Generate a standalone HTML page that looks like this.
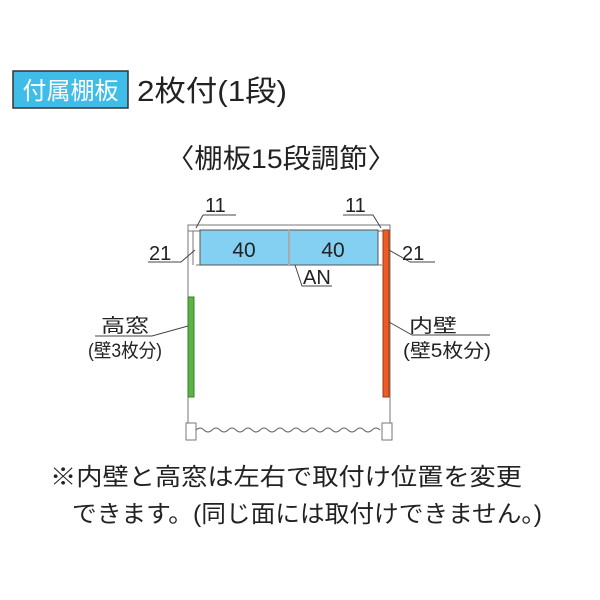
<!DOCTYPE html>
<html><head><meta charset="utf-8"><style>
html,body{margin:0;padding:0;background:#fff;}
svg{display:block;}
text{font-family:"Liberation Sans","Noto Sans CJK JP",sans-serif;fill:#222;}
</style></head><body>
<svg width="600" height="600" viewBox="0 0 600 600" xmlns="http://www.w3.org/2000/svg">
<rect x="13" y="71" width="115" height="37" fill="#3fbde8" stroke="#333" stroke-width="1.5"/>
<text x="70.5" y="99" font-size="24" text-anchor="middle" style="fill:#fff">付属棚板</text>
<text x="137" y="101" font-size="29" textLength="150" lengthAdjust="spacingAndGlyphs">2枚付(1段)</text>
<text x="166" y="168" font-size="27" textLength="230" lengthAdjust="spacingAndGlyphs">〈棚板15段調節〉</text>
<!-- frame -->
<g stroke="#777" stroke-width="1" fill="#fff">
<rect x="188" y="225" width="202" height="6"/>
<line x1="188" y1="225" x2="188" y2="428"/>
<line x1="193" y1="231" x2="193" y2="265"/>
<line x1="390" y1="225" x2="390" y2="428"/>
<line x1="196" y1="265" x2="382" y2="265"/>
<rect x="186" y="423" width="10" height="17"/>
<rect x="382" y="423" width="10" height="17"/>
</g>
<rect x="200" y="230" width="178" height="35" fill="#84d0f2" stroke="#555" stroke-width="1"/>
<line x1="289" y1="230" x2="289" y2="265" stroke="#555" stroke-width="2"/>
<line x1="289" y1="230" x2="289" y2="265" stroke="#fff" stroke-width="1"/>
<rect x="188" y="297" width="6" height="100" fill="#5bb543" stroke="#3c7a2c" stroke-width="1"/>
<rect x="383" y="230" width="6" height="167" fill="#ee5a24" stroke="#a03a14" stroke-width="1"/>
<path d="M196 430 q4 -4 8 0 t8 0 t8 0 t8 0 t8 0 t8 0 t8 0 t8 0 t8 0 t8 0 t8 0 t8 0 t8 0 t8 0 t8 0 t8 0 t8 0 t8 0 t8 0 t8 0 t8 0 t8 0 t8 0" fill="none" stroke="#666" stroke-width="1"/>
<text x="244" y="257" font-size="21" text-anchor="middle">40</text>
<text x="333" y="257" font-size="21" text-anchor="middle">40</text>
<!-- leaders -->
<g stroke="#444" stroke-width="1" fill="none">
<polyline points="203,215 236,215"/><line x1="203" y1="215" x2="196" y2="228"/>
<polyline points="343,215 373,215 381,228"/>
<polyline points="148,262 181,262 195,250"/>
<polyline points="410,262 435,262"/><line x1="410" y1="262" x2="389" y2="250"/>
<polyline points="295,265 302,286 332,286"/>
<polyline points="95,336 152,336 188,326"/>
<polyline points="389,322 412,335 490,335"/>
</g>
<text x="205" y="212" font-size="20">11</text>
<text x="345" y="212" font-size="20">11</text>
<text x="149" y="260" font-size="20">21</text>
<text x="402" y="260" font-size="20">21</text>
<text x="303" y="284" font-size="20">AN</text>
<text x="101" y="332" font-size="19" textLength="48" lengthAdjust="spacingAndGlyphs">高窓</text>
<text x="88" y="357" font-size="19" textLength="74" lengthAdjust="spacingAndGlyphs">(壁3枚分)</text>
<text x="409" y="332" font-size="19" textLength="48" lengthAdjust="spacingAndGlyphs">内壁</text>
<text x="403" y="357" font-size="19" textLength="88" lengthAdjust="spacingAndGlyphs">(壁5枚分)</text>
<text x="50" y="485" font-size="24" textLength="472" lengthAdjust="spacingAndGlyphs">※内壁と高窓は左右で取付け位置を変更</text>
<text x="72" y="522" font-size="24" textLength="470" lengthAdjust="spacingAndGlyphs">できます。(同じ面には取付けできません。)</text>
</svg>
</body></html>
